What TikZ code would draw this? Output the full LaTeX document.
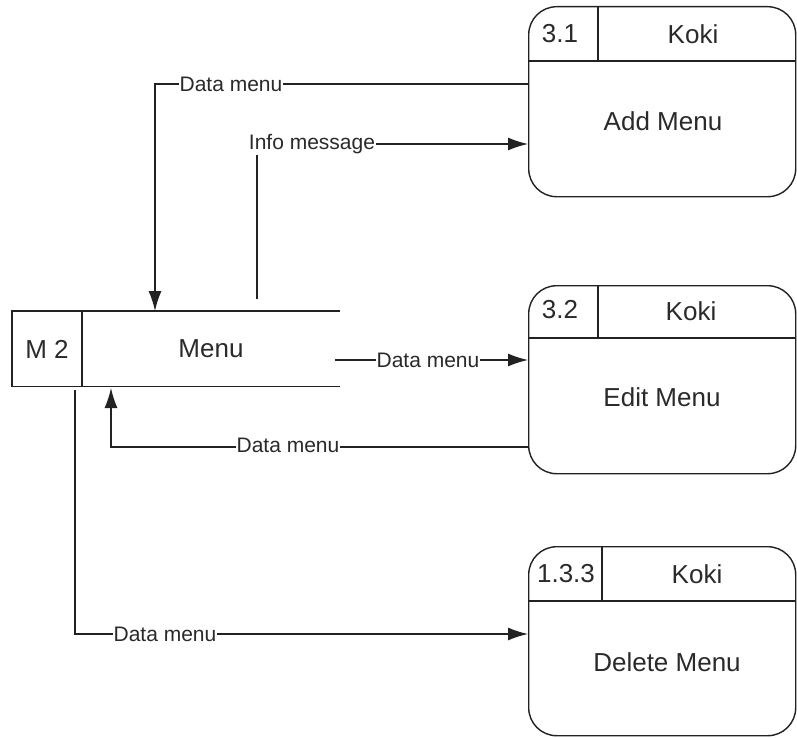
\documentclass[tikz,border=0pt]{standalone}
\usepackage{fontspec}
\setmainfont{Liberation Sans}
\usetikzlibrary{arrows.meta}
\definecolor{ln}{HTML}{222222}
\definecolor{tx}{HTML}{2a2a2a}
\tikzset{
  proc/.style={draw=ln, line width=1.4pt, rounded corners=28pt, anchor=north west, minimum width=267pt, inner sep=0pt},
  sep/.style={draw=ln, line width=1.4pt},
  ntext/.style={text=tx, font=\fontsize{26}{30}\selectfont, inner sep=0pt},
  flow/.style={draw=ln, line width=1.4pt, -{Latex[length=20pt,width=13pt]}},
  plain/.style={draw=ln, line width=1.4pt},
  elabel/.style={fill=white, text=tx, font=\fontsize{21}{24}\selectfont, inner sep=1pt}
}
\begin{document}
\begin{tikzpicture}[x=1pt,y=-1pt]
\useasboundingbox[fill=white] (0,0) rectangle (797,738);

% processes
\node[proc, minimum height=190pt] (p1) at (528,6) {};
\draw[sep] (p1.west |- 0,61) -- (p1.east |- 0,61);
\draw[sep] (598,0 |- p1.north) -- (598,61);
\node[ntext] (p1id) at (560,34) {3.1};
\node[ntext] (p1who) at (693,34) {Koki};
\node[ntext] (p1name) at (663,121) {Add Menu};

\node[proc, minimum height=188pt] (p2) at (528,285) {};
\draw[sep] (p2.west |- 0,338) -- (p2.east |- 0,338);
\draw[sep] (598,0 |- p2.north) -- (598,338);
\node[ntext] (p2id) at (560,310) {3.2};
\node[ntext] (p2who) at (691,311) {Koki};
\node[ntext] (p2name) at (662,397) {Edit Menu};

\node[proc, minimum height=189pt] (p3) at (528,546) {};
\draw[sep] (p3.west |- 0,601) -- (p3.east |- 0,601);
\draw[sep] (602,0 |- p3.north) -- (602,601);
\node[ntext] (p3id) at (566,574) {1.3.3};
\node[ntext] (p3who) at (697,574) {Koki};
\node[ntext] (p3name) at (667,662) {Delete Menu};

% data store
\node[anchor=north west, minimum width=328pt, minimum height=75pt, inner sep=0pt] (st) at (12,311) {};
\draw[plain] (st.north east) -- (st.north west) -- (st.south west) -- (st.south east);
\draw[plain] (82,0 |- st.north) -- (82,0 |- st.south);
\node[ntext] (stid) at (47,349) {M 2};
\node[ntext] (stname) at (211,349) {Menu};

% flows
\coordinate (c1) at (155,84);
\draw[flow] (p1.west |- c1) -- (c1) -- (c1 |- st.north);
\node[elabel] at (231,84) {Data menu};

\coordinate (c2) at (257,299);
\draw[flow] (c2) |- (p1.west |- 0,144);
\node[elabel] at (312,144) {Info message};

\coordinate (c3) at (335,360);
\draw[flow] (c3) -- (p2.west |- c3);
\node[elabel] at (428,360) {Data menu};

\coordinate (c4) at (111,447);
\draw[flow] (p2.west |- c4) -- (c4) -- (111,388);
\node[elabel] at (288,445) {Data menu};

\coordinate (c5) at (75,390);
\draw[flow] (c5) |- (p3.west |- 0,634);
\node[elabel] at (165,634) {Data menu};
\end{tikzpicture}
\end{document}
